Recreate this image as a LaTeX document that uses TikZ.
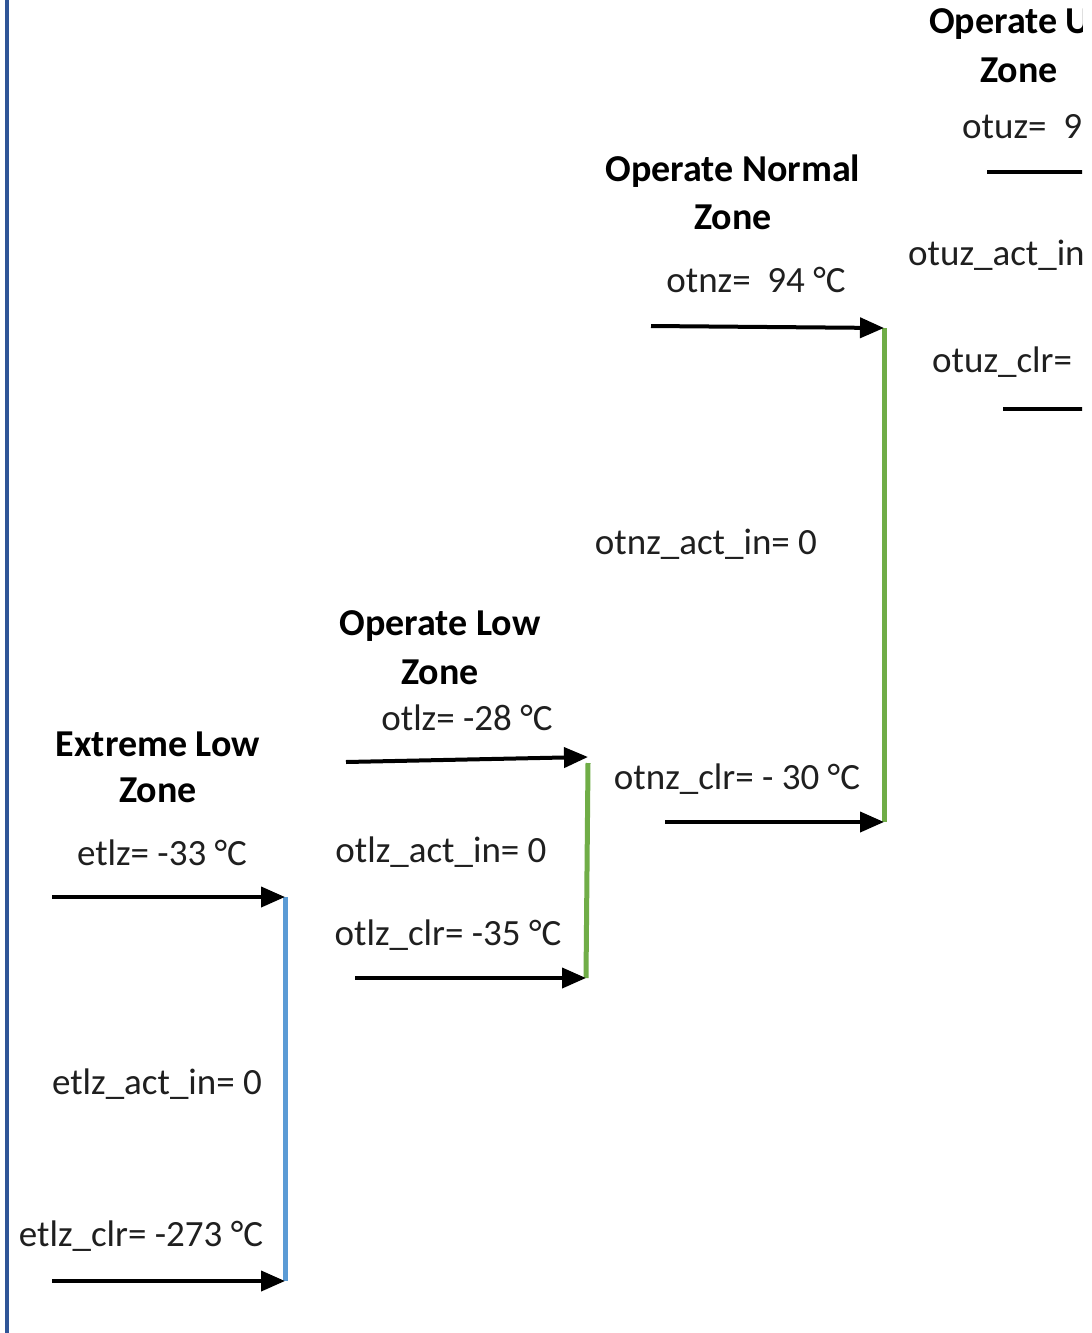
\documentclass[tikz,border=0pt]{standalone}
\usepackage{fontspec}
\setmainfont{Carlito}
\usetikzlibrary{arrows.meta}
\definecolor{borderblue}{HTML}{2F5597}
\definecolor{lightblue}{HTML}{5B9BD5}
\definecolor{zonegreen}{HTML}{70AD47}
\tikzset{
  body/.style={font=\fontsize{37}{42}\selectfont, inner sep=0pt, text=black!88},
  head/.style={font=\bfseries\fontsize{38}{44}\selectfont, inner sep=0pt, text=black},
  thr/.style={line width=4pt, -{Triangle[length=24pt,width=20pt]}},
  bar/.style={line width=5pt},
}
\begin{document}
\begin{tikzpicture}[x=1pt,y=-1pt]
\useasboundingbox (0,0) rectangle (1092,1333);
\fill[white] (0,0) rectangle (1092,1333);
\begin{scope}
\clip (0,0) rectangle (1082,1333);
% left border
\coordinate (bt) at (7,0);
\coordinate (bb) at (7,1333);
\draw[borderblue, line width=4pt] (bt) -- (bb);

% Extreme Low Zone
\node[head] (elz1) at (158,744) {Extreme Low};
\node[head] (elz2) at (158,790) {Zone};
\node[body] (etlz) at (162,853) {etlz= -33 °C};
\node[body] (etlzact) at (157,1084) {etlz\_act\_in= 0};
\node[body] (etlzclr) at (141,1236) {etlz\_clr= -273 °C};
\coordinate (e1s) at (52,897);
\coordinate (e1e) at (285,897);
\coordinate (e2s) at (52,1281);
\coordinate (e2e) at (285,1281);
\draw[lightblue, bar] (e1e) -- (e2e);
\draw[thr] (e1s) -- (e1e);
\draw[thr] (e2s) -- (e2e);

% Operate Low Zone
\node[head] (olz1) at (440,626) {Operate Low};
\node[head] (olz2) at (440,672) {Zone};
\node[body] (otlz) at (467,718) {otlz= -28 °C};
\node[body] (otlzact) at (441,852) {otlz\_act\_in= 0};
\node[body] (otlzclr) at (448,935) {otlz\_clr= -35 °C};
\coordinate (l1s) at (346,762);
\coordinate (l1e) at (588,757);
\coordinate (l2s) at (355,978);
\coordinate (l2e) at (586,978);
\coordinate (lbt) at (588,763);
\draw[zonegreen, bar] (lbt) -- (l2e);
\draw[thr] (l1s) -- (l1e);
\draw[thr] (l2s) -- (l2e);

% Operate Normal Zone
\node[head] (onz1) at (733,171) {Operate Normal};
\node[head] (onz2) at (733,217) {Zone};
\node[body] (otnz) at (756,280) {otnz= \ 94 °C};
\node[body] (otnzact) at (706,544) {otnz\_act\_in= 0};
\node[body] (otnzclr) at (737,779) {otnz\_clr= - 30 °C};
\coordinate (n1s) at (651,326);
\coordinate (n1e) at (884,328);
\coordinate (n2s) at (665,822);
\coordinate (n2e) at (884,822);
\draw[zonegreen, bar] (n1e) -- (n2e);
\draw[thr] (n1s) -- (n1e);
\draw[thr] (n2s) -- (n2e);

% Operate Upper Zone (clipped at right edge)
\node[head, anchor=west] (ouz1) at (929,24) {Operate U};
\node[head] (ouz2) at (1019,70) {Zone};
\node[body, anchor=west] (otuz) at (962,127) {otuz= \ 99};
\node[body, anchor=west] (otuzact) at (908,255) {otuz\_act\_in};
\node[body, anchor=west] (otuzclr) at (932,362) {otuz\_clr=};
\coordinate (u1s) at (987,172);
\coordinate (u1e) at (1100,172);
\coordinate (u2s) at (1003,409);
\coordinate (u2e) at (1100,409);
\draw[line width=4pt] (u1s) -- (u1e);
\draw[line width=4pt] (u2s) -- (u2e);
\end{scope}
\end{tikzpicture}
\end{document}
